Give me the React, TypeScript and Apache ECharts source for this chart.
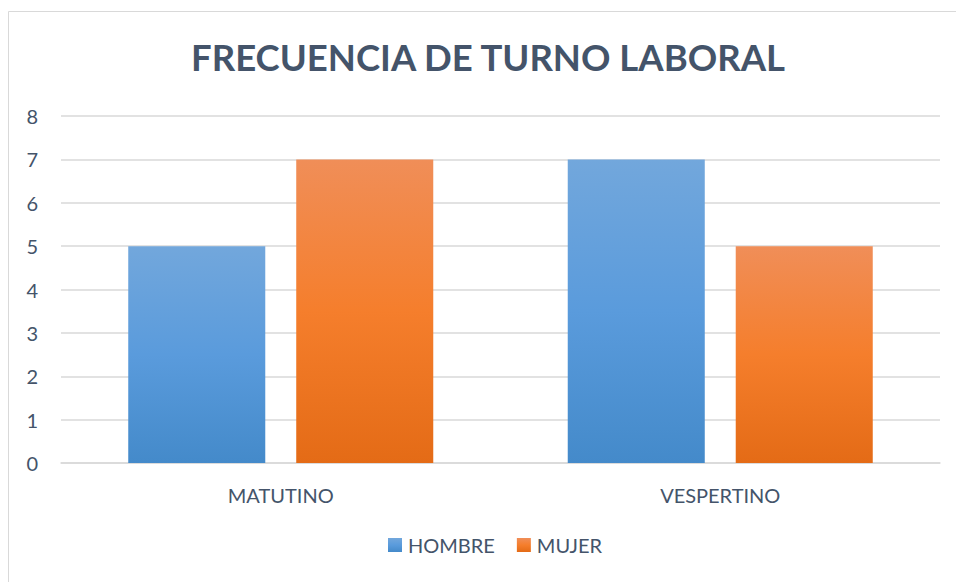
import React, { useEffect, useRef } from "react";
import * as echarts from "echarts";

const categories = ["MATUTINO", "VESPERTINO"];
const hombre = [5, 7];
const mujer = [7, 5];
const seriesNames = ["HOMBRE", "MUJER"];

const textColor = "#44546A";
const font = "Lato";

export default function App() {
  const ref = useRef<HTMLDivElement>(null);
  useEffect(() => {
    document.body.style.margin = "0";
    const chart = echarts.init(ref.current!, null, { renderer: "svg" });
    const blue = new echarts.graphic.LinearGradient(0, 0, 0, 1, [
      { offset: 0, color: "#72A7DC" },
      { offset: 0.5, color: "#5A9BDC" },
      { offset: 1, color: "#448ACA" },
    ]);
    const orange = new echarts.graphic.LinearGradient(0, 0, 0, 1, [
      { offset: 0, color: "#F08E58" },
      { offset: 0.5, color: "#F57E2C" },
      { offset: 1, color: "#E46B16" },
    ]);
    chart.setOption({
      animation: false,
      backgroundColor: "#ffffff",
      title: {
        text: "FRECUENCIA DE TURNO LABORAL",
        left: 483,
        textAlign: "center",
        top: 33,
        textStyle: { fontFamily: font, fontWeight: "bold", fontSize: 36.5, color: textColor },
      },
      graphic: [
        {
          type: "rect",
          shape: { x: 8.5, y: 11.5, width: 1000, height: 700 },
          style: { fill: "none", stroke: "#D9D9D9", lineWidth: 1 },
          silent: true,
        },
      ],
      legend: {
        data: seriesNames,
        bottom: 22,
        left: 383,
        itemWidth: 14,
        itemHeight: 14,
        itemGap: 22,
        icon: "rect",
        textStyle: { fontFamily: font, fontSize: 20, color: textColor, padding: [0, 0, 0, 1] },
      },
      grid: { left: 61, right: 16, top: 116, bottom: 119 },
      xAxis: {
        type: "category",
        data: categories,
        axisLine: { lineStyle: { color: "#D9D9D9", width: 1.5 } },
        axisTick: { show: false },
        axisLabel: { fontFamily: font, fontSize: 20, color: textColor, margin: 22 },
      },
      yAxis: {
        type: "value",
        min: 0,
        max: 8,
        interval: 1,
        axisLine: { show: false },
        axisTick: { show: false },
        splitLine: { lineStyle: { color: "#D9D9D9", width: 1.5 } },
        axisLabel: { fontFamily: font, fontSize: 20, color: textColor, margin: 23 },
      },
      series: [
        {
          name: seriesNames[0],
          type: "bar",
          data: hombre,
          itemStyle: { color: blue },
          barGap: "22.6%",
          barCategoryGap: "30.6%",
        },
        {
          name: seriesNames[1],
          type: "bar",
          data: mujer,
          itemStyle: { color: orange },
          barGap: "22.6%",
          barCategoryGap: "30.6%",
        },
      ],
    });
    return () => chart.dispose();
  }, []);
  return <div ref={ref} style={{ width: 956, height: 582 }} />;
}
